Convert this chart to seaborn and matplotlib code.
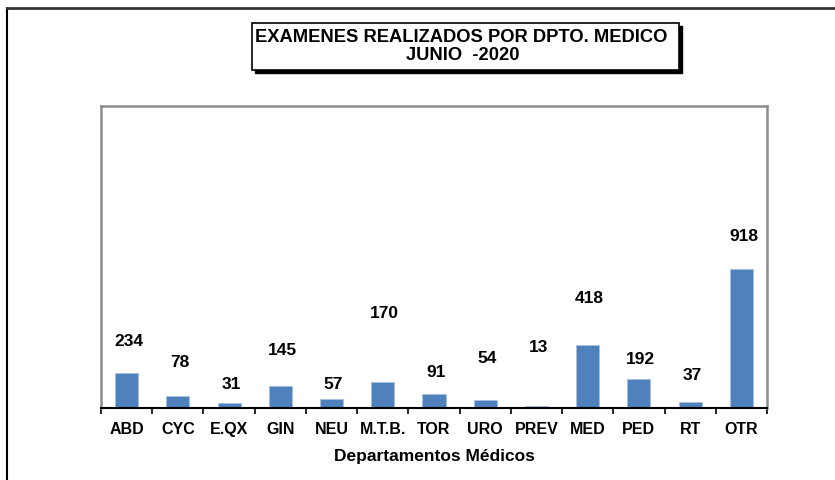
import seaborn as sns
import matplotlib.pyplot as plt
from matplotlib.patches import Rectangle
from matplotlib.lines import Line2D

# Datos
departamentos = ["ABD", "CYC", "E.QX", "GIN", "NEU", "M.T.B.", "TOR",
                 "URO", "PREV", "MED", "PED", "RT", "OTR"]
examenes = [234, 78, 31, 145, 57, 170, 91, 54, 13, 418, 192, 37, 918]

# distancia (pixeles) de cada etiqueta sobre su barra, como en el original
label_offsets = [31, 34, 19, 36, 15, 69, 22, 41, 59, 46, 20, 27, 33]

sns.set_style("white")
plt.rcParams['font.family'] = ['Liberation Sans', 'DejaVu Sans']
plt.rcParams['text.color'] = 'black'
plt.rcParams['xtick.color'] = 'black'
plt.rcParams['axes.labelcolor'] = 'black'

fig = plt.figure(figsize=(8.35, 4.8), dpi=100)
ax = fig.add_axes([101/835, 72/480, 666/835, 302/480])

sns.barplot(x=departamentos, y=examenes, color="#4F81BD", saturation=1,
            width=0.45, edgecolor="#A7C0E0", linewidth=0.6, ax=ax)

for i, v in enumerate(examenes):
    ax.annotate(str(v), xy=(i, v), xytext=(2, label_offsets[i]),
                textcoords="offset pixels", ha="center", va="center",
                fontsize=12.5, fontweight="bold")

ax.set_ylim(0, 2000)
ax.set_xlim(-0.5, len(departamentos) - 0.5)
ax.set_yticks([])
ax.set_xticks(range(len(departamentos)))
ax.set_xticklabels(departamentos, fontsize=11.5, fontweight="bold")
ax.set_xticks([i - 0.5 for i in range(len(departamentos) + 1)], minor=True)
ax.tick_params(axis="x", which="major", length=0, pad=10)
ax.tick_params(axis="x", which="minor", length=4, width=1.2, color="black",
               direction="out", bottom=True)
ax.set_xlabel("Departamentos Médicos", fontsize=12.5, fontweight="bold",
              labelpad=9)
ax.set_ylabel("")

for s in ["left", "top", "right"]:
    ax.spines[s].set_color("#8C8C8C")
    ax.spines[s].set_linewidth(1.8)
ax.spines["bottom"].set_color("black")
ax.spines["bottom"].set_linewidth(1.5)

# caja del titulo con sombra
W, H = 835, 480
fig.add_artist(Rectangle((255/W, (H-73)/H), 427/W, 47/H, transform=fig.transFigure,
                         facecolor="black", edgecolor="black", zorder=5))
fig.add_artist(Rectangle((252/W, (H-70)/H), 427/W, 47/H, transform=fig.transFigure,
                         facecolor="white", edgecolor="black", linewidth=1.2, zorder=6))
fig.text(461/W, (H-37)/H, "EXAMENES REALIZADOS POR DPTO. MEDICO",
         ha="center", va="center", fontsize=13.2, fontweight="bold", zorder=7)
fig.text(463/W, (H-56)/H, "JUNIO  -2020",
         ha="center", va="center", fontsize=13.2, fontweight="bold", zorder=7)

# marco exterior
fig.add_artist(Line2D([7/W, 7/W], [0, (H-8)/H], transform=fig.transFigure,
                      color="black", linewidth=1.5))
fig.add_artist(Line2D([7/W, 1], [(H-8)/H, (H-8)/H], transform=fig.transFigure,
                      color="#333333", linewidth=2))

plt.savefig("out.png", dpi=100)
